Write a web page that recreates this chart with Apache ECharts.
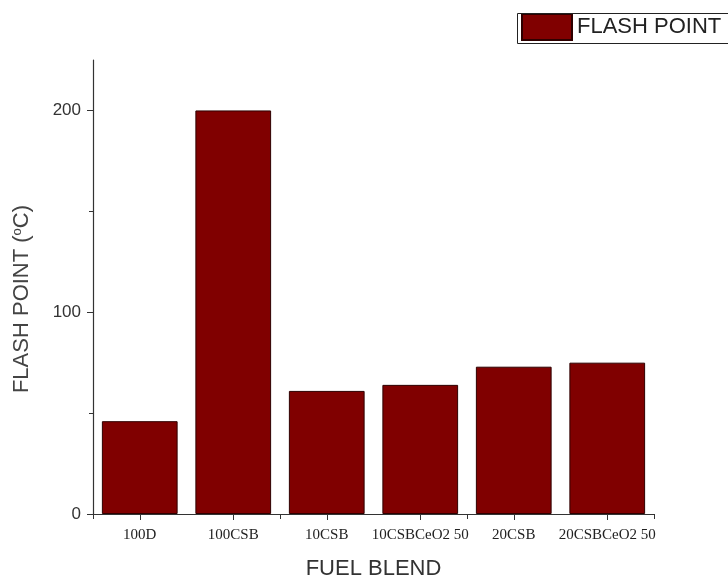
<!DOCTYPE html>
<html>
<head>
<meta charset="utf-8">
<script src="https://cdn.jsdelivr.net/npm/echarts@6/dist/echarts.min.js"></script>
<style>
  html, body { margin: 0; padding: 0; background: #fff; }
  #chart { width: 728px; height: 579px; }
</style>
</head>
<body>
<div id="chart"></div>
<script>
// Fuel blends and their measured flash points (°C)
const categories = ['100D', '100CSB', '10CSB', '10CSBCeO2 50', '20CSB', '20CSBCeO2 50'];
const flashPoint = [46, 200, 61, 64, 73, 75];
const yMajorTicks = [0, 100, 200];
const yMinorTicks = [50, 150];

const chart = echarts.init(document.getElementById('chart'));

const axisColor = '#333';

chart.setOption({
  backgroundColor: '#fff',
  animation: false,
  grid: { left: 93, right: 74, top: 60, bottom: 65, containLabel: false, outerBoundsMode: 'none' },
  // legend frame, running off the right edge of the canvas
  graphic: [
    {
      type: 'rect',
      left: 515,
      top: 11,
      shape: { x: 0, y: 0, width: 260, height: 30 },
      style: { fill: 'none', stroke: '#222', lineWidth: 1 },
      z: 5
    }
  ],
  legend: {
    data: ['FLASH POINT'],
    left: 521,
    top: 13,
    orient: 'horizontal',
    padding: 0,
    itemWidth: 50,
    itemHeight: 26,
    itemGap: 6,
    icon: 'rect',
    textStyle: { fontFamily: 'Liberation Sans, Arial, sans-serif', fontSize: 22, color: '#222' }
  },
  xAxis: [
    {
      type: 'category',
      data: categories,
      position: 'bottom',
      axisLine: { show: true, lineStyle: { color: axisColor, width: 1.2 } },
      axisTick: { show: true, alignWithLabel: true, length: 6, lineStyle: { color: axisColor } },
      axisLabel: {
        interval: 0,
        margin: 14,
        fontFamily: 'Liberation Serif, Times New Roman, serif',
        fontSize: 15,
        color: '#222'
      },
      name: 'FUEL BLEND',
      nameLocation: 'middle',
      nameGap: 44,
      nameTextStyle: { fontFamily: 'Liberation Sans, Arial, sans-serif', fontSize: 22, color: '#333' }
    },
    {
      // boundary ticks between categories
      type: 'category',
      data: categories,
      position: 'bottom',
      axisLine: { show: false },
      axisTick: { show: true, alignWithLabel: false, length: 5, lineStyle: { color: axisColor } },
      axisLabel: { show: false },
      splitLine: { show: false }
    }
  ],
  yAxis: [
    {
      type: 'value',
      min: 0,
      max: 225,
      interval: 100,
      position: 'left',
      axisLine: { show: true, lineStyle: { color: axisColor, width: 1.2 } },
      axisTick: { show: true, customValues: yMajorTicks, length: 6, lineStyle: { color: axisColor } },
      axisLabel: {
        customValues: yMajorTicks,
        margin: 12,
        fontFamily: 'Liberation Sans, Arial, sans-serif',
        fontSize: 17,
        color: '#333'
      },
      splitLine: { show: false },
      name: '{t|FLASH POINT (}{s|o}{t|C)}',
      nameLocation: 'middle',
      nameGap: 60,
      nameRotate: 90,
      nameTextStyle: {
        padding: [0, 24, 0, 0],
        rich: {
          t: { fontFamily: 'Liberation Sans, Arial, sans-serif', fontSize: 22, color: '#444' },
          s: { fontFamily: 'Liberation Sans, Arial, sans-serif', fontSize: 13, color: '#444', verticalAlign: 'top', padding: [0, 0, 8, 0] }
        }
      }
    },
    {
      // minor ticks
      type: 'value',
      min: 0,
      max: 225,
      interval: 100,
      position: 'left',
      axisLine: { show: false },
      axisTick: { show: true, customValues: yMinorTicks, length: 4, lineStyle: { color: axisColor } },
      axisLabel: { show: false },
      splitLine: { show: false }
    }
  ],
  series: [
    {
      name: 'FLASH POINT',
      type: 'bar',
      xAxisIndex: 0,
      yAxisIndex: 0,
      data: flashPoint,
      barCategoryGap: '19%',
      itemStyle: { color: '#800000', borderColor: '#2e0000', borderWidth: 1 }
    }
  ]
});
</script>
</body>
</html>
